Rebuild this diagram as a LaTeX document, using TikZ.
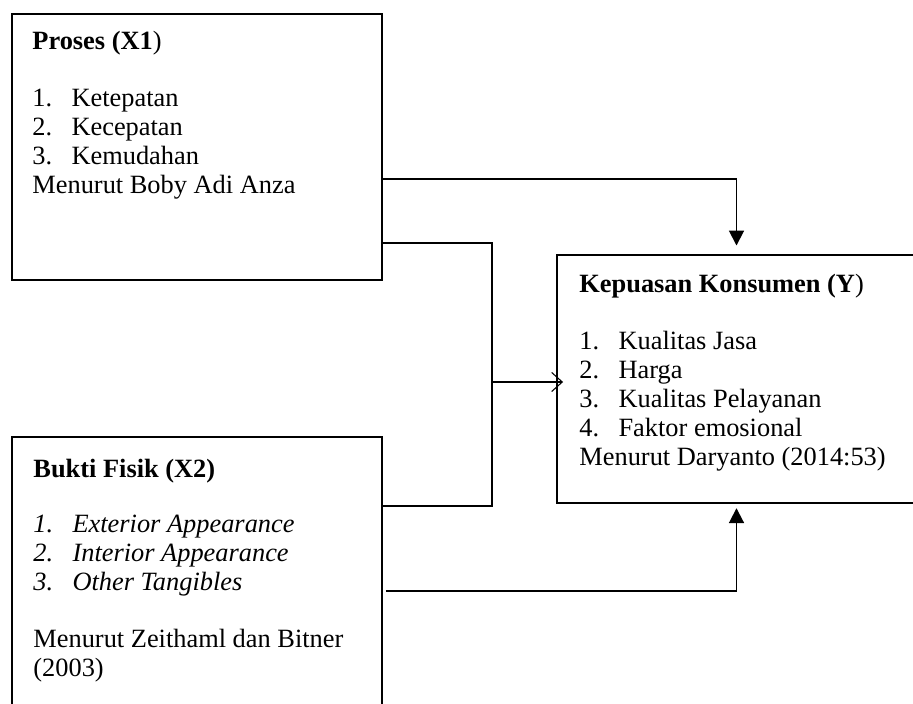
\documentclass[tikz,border=0pt]{standalone}
\usepackage{fontspec}
\setmainfont{Liberation Serif}
\usetikzlibrary{arrows.meta, positioning, fit}

\newcommand{\butir}[2]{\makebox[18.4pt][l]{#1}#2}

\begin{document}
\begin{tikzpicture}[
    x = 0.47pt, y = -0.47pt,
    font = \fontsize{12.4}{13.63}\selectfont,
    kotak/.style = {draw, rectangle, line width=0.9pt, inner sep=0pt},
    isi/.style = {anchor=base west, align=left, inner sep=0pt},
    tebal/.style = {-{Triangle[length=7pt, width=7pt]}, line width=0.9pt},
    tipis/.style = {line width=0.5pt},
    panah/.style = {-{Straight Barb[length=5pt, width=9pt]}, line width=0.5pt}
]
    \useasboundingbox (0,0) rectangle (913,704);

    % Nodes
    \node [kotak, fit={(12,14) (382,280)}] (proses) {};
    \node [kotak, fit={(12,437) (382,720)}] (bukti) {};
    \node [kotak, fit={(557,255) (916,503)}] (kepuasan) {};
    \coordinate (cabang) at (492,382);

    % texts (base = baseline of the last line)
    \node [isi] (prosesisi) at (32,194) {\textbf{Proses (X1})\\[13.2pt]
        \butir{1.}{Ketepatan}\\
        \butir{2.}{Kecepatan}\\
        \butir{3.}{Kemudahan}\\
        Menurut Boby Adi Anza};
    \node [isi] (buktiisi) at (33,677) {\textbf{Bukti Fisik (X2)}\\[12.2pt]
        \textit{\butir{1.}{Exterior Appearance}}\\
        \textit{\butir{2.}{Interior Appearance}}\\
        \textit{\butir{3.}{Other Tangibles}}\\[13.6pt]
        Menurut Zeithaml dan Bitner\\
        (2003)};
    \node [isi] (kepuasanisi) at (579,466) {\textbf{Kepuasan Konsumen (Y})\\[13.2pt]
        \butir{1.}{Kualitas Jasa}\\
        \butir{2.}{Harga}\\
        \butir{3.}{Kualitas Pelayanan}\\
        \butir{4.}{Faktor emosional}\\
        Menurut Daryanto (2014:53)};

    % Edges
    \draw [tebal] (proses.east |- 0,179) -| ([yshift=4pt]kepuasan.north);
    \draw [tipis] (proses.east |- 0,243) -| (cabang) |- (bukti.east |- 0,506);
    \draw [panah, shorten >=-3.3pt] (cabang) -- (cabang -| kepuasan.west);
    \draw [tebal, shorten <=1.4pt] (bukti.east |- 0,591) -| ([yshift=-2pt]kepuasan.south);

\end{tikzpicture}
\end{document}
